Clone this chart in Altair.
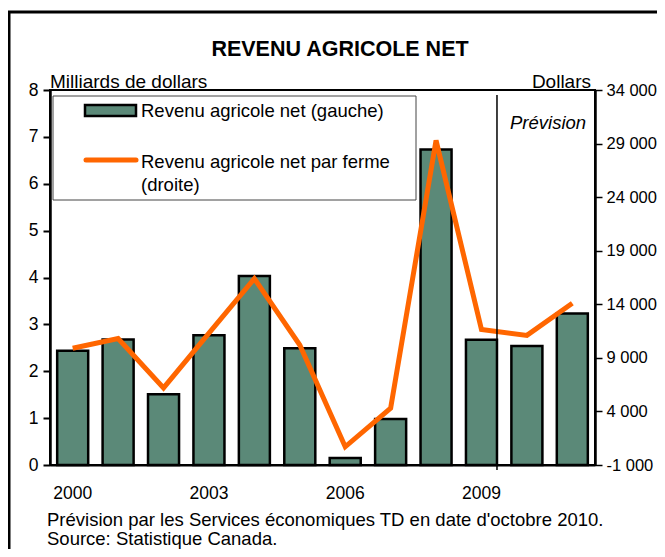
import altair as alt
import pandas as pd

# ---- data ----
years = ["2000", "2001", "2002", "2003", "2004", "2005",
         "2006", "2007", "2008", "2009", "2010", "2011"]
revenu_net = [2.44, 2.68, 1.51, 2.77, 4.03, 2.49, 0.15, 0.98, 6.73, 2.67, 2.54, 3.23]
revenu_ferme = [9900, 10800, 6200, 11300, 16400, 10200, 700, 4300, 29300, 11650, 11100, 14100]
left_ticks = [0, 1, 2, 3, 4, 5, 6, 7, 8]
right_ticks = [-1000, 4000, 9000, 14000, 19000, 24000, 29000, 34000]
x_labels = ["2000", "2003", "2006", "2009"]
prevision_start = ["2009"]

title_text = ["REVENU AGRICOLE NET"]
left_title = ["Milliards de dollars"]
right_title = ["Dollars"]
legend_bar_label = ["Revenu agricole net (gauche)"]
legend_line_label = ["Revenu agricole net par ferme", "(droite)"]
prevision_label = ["Prévision"]
notes = ["Prévision par les Services économiques TD en date d'octobre 2010.",
         "Source: Statistique Canada."]

FONT = "Liberation Sans"
BAR_COLOR = "#5B8978"
LINE_COLOR = "#FF6600"

df = pd.DataFrame({"annee": years, "net": revenu_net, "ferme": revenu_ferme})


def x_enc(**kw):
    return alt.X(
        "annee:O",
        scale=alt.Scale(paddingInner=0.317, paddingOuter=0.158),
        axis=alt.Axis(values=x_labels, ticks=False, tickSize=0, labelAngle=0,
                      labelPadding=19, labelFontSize=17.5, labelColor="black",
                      domainColor="black", domainWidth=2, title=None),
        **kw,
    )


bars = alt.Chart(df).mark_bar(color=BAR_COLOR, stroke="black", strokeWidth=2.5).encode(
    x=x_enc(),
    y=alt.Y("net:Q", scale=alt.Scale(domain=[0, 8], nice=False),
            axis=alt.Axis(orient="left", values=left_ticks, tickSize=7, tickWidth=2,
                          tickColor="black", domainColor="black", domainWidth=2.5,
                          labelFontSize=17.5, labelColor="black", labelPadding=5,
                          grid=False, title=None)),
)

line = alt.Chart(df).mark_line(color=LINE_COLOR, strokeWidth=5).encode(
    x=x_enc(),
    y=alt.Y("ferme:Q", scale=alt.Scale(domain=[-1000, 34000], nice=False, zero=False),
            axis=alt.Axis(orient="right", values=right_ticks, tickSize=7, tickWidth=1.5,
                          tickColor="black", domainColor="black", domainWidth=2.5,
                          labelFontSize=16.5, labelColor="black", labelPadding=4,
                          grid=False, title=None,
                          labelExpr="(datum.value < 0 ? '-' : '') + replace(format(abs(datum.value), ','), ',', ' ')")),
)

rule = alt.Chart(pd.DataFrame({"annee": prevision_start})).mark_rule(
    color="black", strokeWidth=1.5).encode(
    x=x_enc(bandPosition=1),
    y=alt.value(5), y2=alt.value(380),
)


def text_layer(texts, x, ys, size=18, align="left", baseline="alphabetic", **kw):
    d = pd.DataFrame({"t": texts, "yy": ys})
    return alt.Chart(d).mark_text(align=align, baseline=baseline, fontSize=size,
                                  color="black", font=FONT, **kw).encode(
        text="t:N", x=alt.value(x), y=alt.Y("yy:Q", scale=None))


title = text_layer(title_text, 290, [-34], size=21.5, align="center", fontWeight="bold")
ltitle = text_layer(left_title, 0, [-2], size=19)
rtitle = text_layer(right_title, 541, [-2], size=19, align="right")
prev = text_layer(prevision_label, 460, [39], size=18.5, fontStyle="italic")
leg1 = text_layer(legend_bar_label, 91, [27], size=18.5)
leg2 = text_layer(legend_line_label, 91, [78, 101], size=18.5)
foot = text_layer(notes, -3, [436, 455], size=18.5)

dummy = pd.DataFrame({"k": [0]})
legend_box = alt.Chart(dummy).mark_rect(fillOpacity=0, stroke="#444444", strokeWidth=1).encode(
    x=alt.value(3), x2=alt.value(366), y=alt.value(6), y2=alt.value(110))
legend_bar = alt.Chart(dummy).mark_rect(color=BAR_COLOR, stroke="black", strokeWidth=2.5).encode(
    x=alt.value(35), x2=alt.value(86), y=alt.value(15), y2=alt.value(26))
legend_line = alt.Chart(dummy).mark_rule(color=LINE_COLOR, strokeWidth=5, strokeCap="round").encode(
    x=alt.value(36), x2=alt.value(86), y=alt.value(70))
# outer frame of the original figure (cropped on the right and bottom)
frame_top = alt.Chart(dummy).mark_rule(color="black", strokeWidth=3).encode(
    x=alt.value(-42), x2=alt.value(612), y=alt.value(-78))
frame_left = alt.Chart(dummy).mark_rule(color="black", strokeWidth=3).encode(
    x=alt.value(-41), y=alt.value(-79), y2=alt.value(464))

chart = alt.layer(
    bars, line, rule, legend_box, legend_bar, legend_line,
    title, ltitle, rtitle, prev, leg1, leg2, foot, frame_top, frame_left,
).resolve_scale(y="independent").properties(
    width=545, height=375,
    autosize=alt.AutoSizeParams(type="none"),
    padding={"left": 42, "top": 82, "right": 62, "bottom": 84},
).configure(font=FONT).configure_view(stroke="black", strokeWidth=2)

chart.save("out.html", embed_options={"renderer": "svg", "actions": False})
